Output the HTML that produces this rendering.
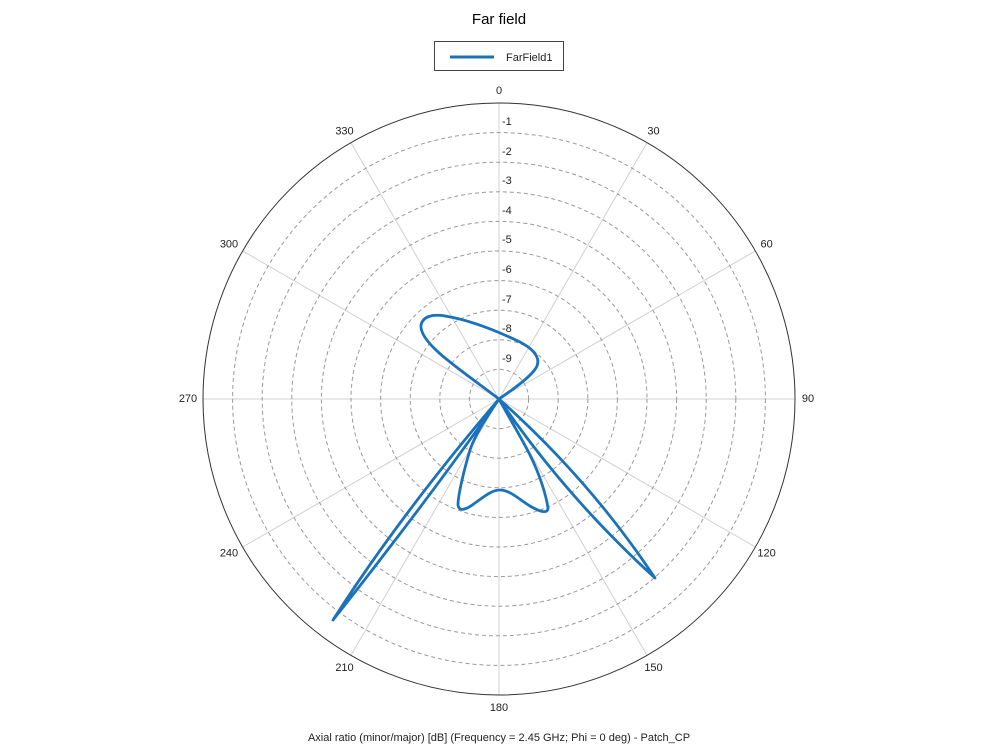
<!DOCTYPE html>
<html><head><meta charset="utf-8"><style>
body{margin:0;background:#fff;}
svg{display:block;font-family:"Liberation Sans",Arial,sans-serif;}
</style></head><body>
<svg width="1000" height="756" viewBox="0 0 1000 756">
<rect width="1000" height="756" fill="#fff"/>
<text x="499" y="24" font-size="15" text-anchor="middle" fill="#000">Far field</text>
<rect x="434.5" y="41.5" width="129" height="29" fill="#fff" stroke="#444" stroke-width="1"/>
<line x1="450" y1="57" x2="494" y2="57" stroke="#1a72bb" stroke-width="3"/>
<text x="506" y="61" font-size="11" fill="#222">FarField1</text>
<g stroke="#d0d0d0" stroke-width="1">
<line x1="499" y1="399" x2="499" y2="103"/><line x1="499" y1="399" x2="647" y2="142.7"/>
<line x1="499" y1="399" x2="755.3" y2="251"/><line x1="499" y1="399" x2="795" y2="399"/>
<line x1="499" y1="399" x2="755.3" y2="547"/><line x1="499" y1="399" x2="647" y2="655.3"/>
<line x1="499" y1="399" x2="499" y2="695"/><line x1="499" y1="399" x2="351" y2="655.3"/>
<line x1="499" y1="399" x2="242.7" y2="547"/><line x1="499" y1="399" x2="203" y2="399"/>
<line x1="499" y1="399" x2="242.7" y2="251"/><line x1="499" y1="399" x2="351" y2="142.7"/>
</g>
<g fill="none" stroke="#999" stroke-width="1" stroke-dasharray="4,3">
<circle cx="499" cy="399" r="266.4"/><circle cx="499" cy="399" r="236.8"/><circle cx="499" cy="399" r="207.2"/>
<circle cx="499" cy="399" r="177.6"/><circle cx="499" cy="399" r="148"/><circle cx="499" cy="399" r="118.4"/>
<circle cx="499" cy="399" r="88.8"/><circle cx="499" cy="399" r="59.2"/><circle cx="499" cy="399" r="29.6"/>
</g>
<circle cx="499" cy="399" r="296" fill="none" stroke="#333" stroke-width="1"/>
<g font-size="11" fill="#222" dominant-baseline="central">
<text x="502" y="122">-1</text><text x="502" y="152">-2</text><text x="502" y="181">-3</text>
<text x="502" y="211">-4</text><text x="502" y="240">-5</text><text x="502" y="270">-6</text>
<text x="502" y="300">-7</text><text x="502" y="329">-8</text><text x="502" y="359">-9</text>
</g>
<g font-size="11" fill="#222" text-anchor="middle" dominant-baseline="central">
<text x="499" y="91">0</text><text x="653.5" y="131.4">30</text><text x="766.6" y="244.5">60</text>
<text x="808" y="399">90</text><text x="766.6" y="553.5">120</text><text x="653.5" y="668">150</text>
<text x="499" y="708">180</text><text x="344.5" y="668">210</text><text x="229" y="553.5">240</text>
<text x="188" y="399">270</text><text x="229" y="244.5">300</text><text x="344.5" y="131.4">330</text>
</g>
<g fill="none" stroke="#1a72bb" stroke-width="2.8" stroke-linejoin="round">
<path d="M499,399 C485,388 470,378 450,362 C432,348 420,335 421,325 C423,316 433,314 445,316 C470,320 495,330 520,342 C535,350 540,358 537,366 C533,375 515,388 499,399 Z"/>
<path d="M499,399 Q400,515 333,620 Q428,500 499,399 Z"/>
<path d="M499,399 Q590,480 655,578 Q566,497 499,399 Z"/>
<path d="M499,399 C485,420 475,435 470,450 C464,470 458,495 458,505 C459,512 466,510 475,503 C485,496 492,490 500,490 C510,490 520,500 530,506 C540,512 548,514 548,508 C546,495 540,475 530,455 C520,435 508,416 499,399 Z"/>
</g>
<text x="499" y="741" font-size="11" text-anchor="middle" fill="#222">Axial ratio (minor/major) [dB] (Frequency = 2.45 GHz; Phi = 0 deg) - Patch_CP</text>
</svg>
</body></html>
